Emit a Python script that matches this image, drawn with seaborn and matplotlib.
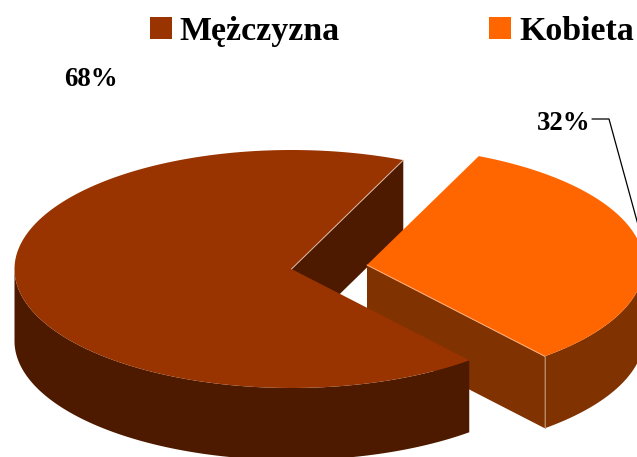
import numpy as np
import matplotlib
matplotlib.use("Agg")
import matplotlib.pyplot as plt
from matplotlib.patches import Patch
import seaborn as sns

categories = ["Mężczyzna", "Kobieta"]
values = [67.7, 32.3]
labels = ["68%", "32%"]
top_colors = ["#993300", "#FF6600"]
side_colors = ["#4D1A00", "#803300"]

rx, ry, depth = 277, 119, 72
start_angle = 66.2
centers = [(291.5, 269), (367, 265)]


def arc(center, a0, a1):
    t = np.radians(np.linspace(a0, a1, 200))
    return np.column_stack([center[0] + rx * np.cos(t), center[1] - ry * np.sin(t)])


def point(center, a):
    return arc(center, a, a)[0]


def draw_rim(ax, center, a0, a1, color):
    # only the front half of the rim can be seen
    a0, a1 = max(a0, 180), min(a1, 360)
    edge = arc(center, a0, a1)
    ax.fill(*np.vstack([edge, edge[::-1] + [0, depth]]).T, color=color, lw=0)


def draw_wall(ax, center, a, color):
    p = point(center, a)
    quad = np.array([center, p, p + [0, depth], np.array(center) + [0, depth]])
    ax.fill(*quad.T, color=color, lw=0)


sns.set_theme(style="white")
plt.rcParams["font.family"] = ["Liberation Serif", "DejaVu Serif"]
palette = sns.color_palette(top_colors)

fig, ax = plt.subplots(figsize=(6.37, 4.57), dpi=100)
ax.set_position([0, 0, 1, 1])
ax.set_xlim(0, 637)
ax.set_ylim(457, 0)
ax.axis("off")

sweep = [v / sum(values) * 360 for v in values]
a_end = start_angle + sweep[0]

# back wall of the big slice goes first, the exploded slice sits in front of it
draw_wall(ax, centers[0], start_angle, side_colors[0])

# exploded slice
draw_wall(ax, centers[1], a_end, side_colors[1])
draw_rim(ax, centers[1], a_end, a_end + sweep[1], side_colors[1])
top = np.vstack([[centers[1]], arc(centers[1], a_end, a_end + sweep[1])])
ax.fill(*top.T, color=palette[1], lw=0)

# big slice on top
draw_rim(ax, centers[0], start_angle, a_end, side_colors[0])
top = np.vstack([[centers[0]], arc(centers[0], start_angle, a_end)])
ax.fill(*top.T, color=palette[0], lw=0)

# pale edge highlights
p = point(centers[0], start_angle)
ax.plot([centers[0][0], p[0]], [centers[0][1], p[1]], color="#D9B8A6", lw=0.7)
p = point(centers[1], a_end)
ax.plot([centers[1][0], p[0]], [centers[1][1], p[1]], color="#FFB080", lw=0.7)
ax.plot([p[0], p[0]], [p[1], p[1] + depth], color="#B98A66", lw=0.7)

# data labels
ax.text(90.5, 79.5, labels[0], ha="center", va="center", fontsize=19.4, fontweight="bold", color="black")
ax.text(563.5, 123, labels[1], ha="center", va="center", fontsize=19.4, fontweight="bold", color="black")
ax.plot([592, 609, 640], [119, 119, 232], color="black", lw=0.9, clip_on=True)

handles = [Patch(facecolor=c, edgecolor="none") for c in palette]
ax.legend(handles, categories, loc="upper left", bbox_to_anchor=(150, 16), bbox_transform=ax.transData,
          ncols=2, frameon=False, labelcolor="black",
          prop={"family": "Liberation Serif", "weight": "bold", "size": 24.4},
          handlelength=0.65, handleheight=0.65, handletextpad=0.22, columnspacing=4.42,
          borderpad=0, borderaxespad=0)

fig.savefig("out.png", dpi=100)
